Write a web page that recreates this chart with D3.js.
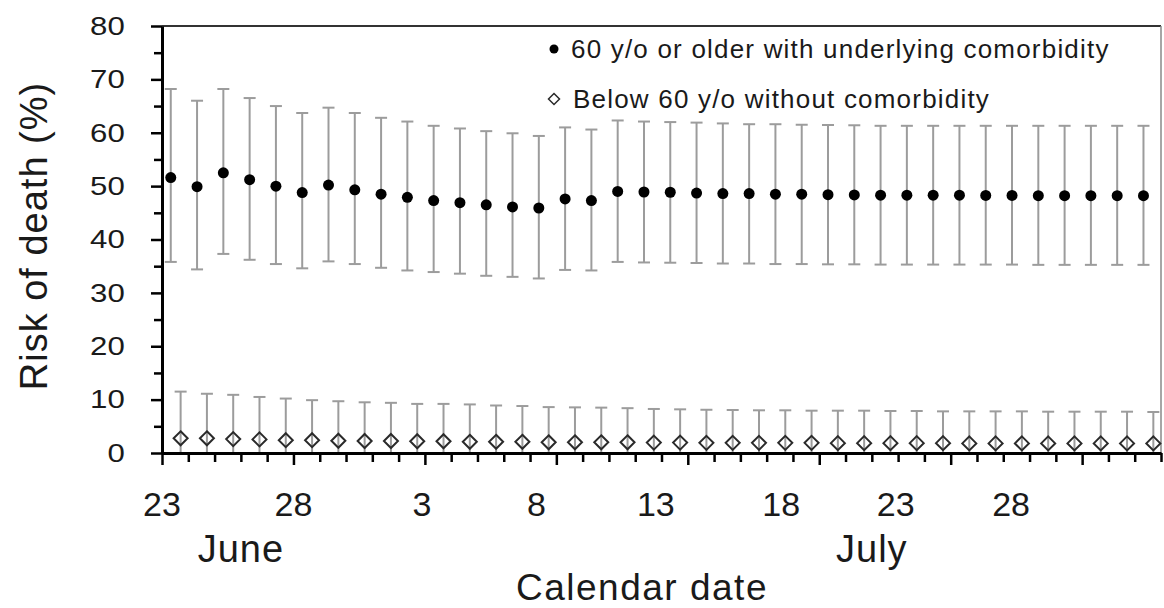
<!DOCTYPE html>
<html>
<head>
<meta charset="utf-8">
<script src="https://cdn.jsdelivr.net/npm/d3@7"></script>
<style>
  body { margin: 0; background: #fff; }
  svg text { font-family: "Liberation Sans", Arial, sans-serif; fill: #1a1a1a; }
</style>
</head>
<body>
<div id="chart"></div>
<script>
// calendar days, one point per day
var dates = [
  "2020-06-23", "2020-06-24", "2020-06-25", "2020-06-26", "2020-06-27", "2020-06-28",
  "2020-06-29", "2020-06-30", "2020-07-01", "2020-07-02", "2020-07-03", "2020-07-04",
  "2020-07-05", "2020-07-06", "2020-07-07", "2020-07-08", "2020-07-09", "2020-07-10",
  "2020-07-11", "2020-07-12", "2020-07-13", "2020-07-14", "2020-07-15", "2020-07-16",
  "2020-07-17", "2020-07-18", "2020-07-19", "2020-07-20", "2020-07-21", "2020-07-22",
  "2020-07-23", "2020-07-24", "2020-07-25", "2020-07-26", "2020-07-27", "2020-07-28",
  "2020-07-29", "2020-07-30"
];

// 60 y/o or older with underlying comorbidity (%)
var olderMean = [51.6, 49.9, 52.5, 51.2, 50.0, 48.8, 50.2, 49.3, 48.5, 47.9, 47.3, 46.9, 46.5,
  46.1, 45.9, 47.6, 47.3, 49.0, 48.9, 48.85, 48.7, 48.6, 48.6, 48.5, 48.5, 48.4, 48.35, 48.3,
  48.3, 48.3, 48.3, 48.25, 48.25, 48.2, 48.2, 48.2, 48.2, 48.2];
var olderLow = [35.8, 34.4, 37.3, 36.2, 35.4, 34.6, 35.9, 35.4, 34.7, 34.2, 33.9, 33.6, 33.2,
  33.0, 32.7, 34.3, 34.2, 35.8, 35.7, 35.65, 35.6, 35.5, 35.5, 35.4, 35.4, 35.35, 35.35, 35.3,
  35.3, 35.3, 35.3, 35.3, 35.3, 35.25, 35.25, 35.25, 35.25, 35.25];
var olderHigh = [68.2, 66.0, 68.2, 66.5, 65.0, 63.7, 64.7, 63.7, 62.8, 62.1, 61.3, 60.8, 60.3,
  59.9, 59.4, 61.0, 60.6, 62.3, 62.1, 62.0, 61.9, 61.75, 61.6, 61.6, 61.5, 61.45, 61.4, 61.3,
  61.3, 61.3, 61.3, 61.3, 61.3, 61.3, 61.3, 61.3, 61.3, 61.3];

// Below 60 y/o without comorbidity (%)
var youngMean = [2.75, 2.75, 2.6, 2.55, 2.4, 2.4, 2.3, 2.25, 2.25, 2.2, 2.2, 2.1, 2.1, 2.1, 2.0,
  2.0, 2.0, 2.0, 1.95, 1.95, 1.9, 1.9, 1.9, 1.9, 1.9, 1.85, 1.85, 1.85, 1.85, 1.85, 1.8, 1.8,
  1.8, 1.8, 1.8, 1.8, 1.8, 1.8];
var youngLow = [0, 0, 0, 0, 0, 0, 0, 0, 0, 0, 0, 0, 0, 0, 0, 0, 0, 0, 0,
  0, 0, 0, 0, 0, 0, 0, 0, 0, 0, 0, 0, 0, 0, 0, 0, 0, 0, 0];
var youngHigh = [11.5, 11.1, 10.9, 10.5, 10.2, 9.9, 9.7, 9.5, 9.4, 9.2, 9.2, 9.1, 8.9, 8.8, 8.6,
  8.55, 8.5, 8.4, 8.25, 8.18, 8.1, 8.06, 8.0, 8.0, 7.93, 7.93, 7.93, 7.87, 7.87, 7.8, 7.8, 7.8,
  7.8, 7.74, 7.74, 7.74, 7.74, 7.68];

var yTicks = [0, 10, 20, 30, 40, 50, 60, 70, 80];
var xTickLabels = ["23", "28", "3", "8", "13", "18", "23", "28"];
var monthLabels = ["June", "July"];
var monthDates = ["2020-06-26", "2020-07-20"];
var legendLabels = ["60 y/o or older with underlying comorbidity", "Below 60 y/o without comorbidity"];

var W = 1164, H = 608;
var parse = d3.timeParse("%Y-%m-%d");
var days = dates.map(parse);
var xEnd = d3.timeDay.offset(days[days.length - 1], 1);

var x = d3.scaleTime().domain([days[0], xEnd]).range([162, 1161]);
var y = d3.scaleLinear().domain([0, 80]).range([453, 26]);

var svg = d3.select("#chart").append("svg")
    .attr("width", W)
    .attr("height", H);

// frame (top + right)
svg.append("line")
    .attr("x1", x.range()[0]).attr("x2", x.range()[1])
    .attr("y1", y(80)).attr("y2", y(80))
    .attr("stroke", "#333").attr("stroke-width", 2);
svg.append("line")
    .attr("x1", x.range()[1]).attr("x2", x.range()[1])
    .attr("y1", y(80)).attr("y2", y(0))
    .attr("stroke", "#888").attr("stroke-width", 1.5);

var series = [
  { mean: olderMean, low: olderLow, high: olderHigh, shiftH: 8, shape: "dot" },
  { mean: youngMean, low: youngLow, high: youngHigh, shiftH: 17, shape: "diamond" }
];

var diamond = "M0,-7L7,0L0,7L-7,0Z";

series.forEach(function(s) {
  var pts = days.map(function(d, i) {
    return { x: x(d3.timeHour.offset(d, s.shiftH)), m: s.mean[i], lo: s.low[i], hi: s.high[i] };
  });
  var g = svg.append("g");
  var bars = g.selectAll(".eb").data(pts).enter().append("g").attr("class", "eb")
      .attr("stroke", "#9c9c9c").attr("stroke-width", 2);
  bars.append("line")
      .attr("x1", d => d.x).attr("x2", d => d.x)
      .attr("y1", d => y(d.lo)).attr("y2", d => y(d.hi));
  bars.append("line")
      .attr("x1", d => d.x - 6).attr("x2", d => d.x + 6)
      .attr("y1", d => y(d.hi)).attr("y2", d => y(d.hi));
  bars.append("line")
      .attr("x1", d => d.x - 6).attr("x2", d => d.x + 6)
      .attr("y1", d => y(d.lo)).attr("y2", d => y(d.lo));

  if (s.shape === "dot") {
    g.selectAll(".pt").data(pts).enter().append("circle")
        .attr("class", "pt")
        .attr("cx", d => d.x).attr("cy", d => y(d.m)).attr("r", 5.5)
        .attr("fill", "#000");
  } else {
    g.selectAll(".pt").data(pts).enter().append("path")
        .attr("class", "pt")
        .attr("d", diamond)
        .attr("transform", d => "translate(" + d.x + "," + y(d.m) + ")")
        .attr("fill", "none").attr("stroke", "#2a2a2a").attr("stroke-width", 2);
  }
});

// x axis: a tick each day, longer every 5 days
var allDays = d3.timeDay.range(days[0], d3.timeDay.offset(xEnd, 1));
var xAxis = svg.append("g")
    .attr("transform", "translate(0," + y(0) + ")")
    .call(d3.axisBottom(x).tickValues(allDays).tickSize(9).tickSizeOuter(0).tickFormat(""));
xAxis.select(".domain").attr("stroke", "#000").attr("stroke-width", 3);
xAxis.selectAll(".tick line").attr("stroke", "#000").attr("stroke-width", 2.5)
    .filter((d, i) => i % 5 === 0).attr("y2", 12);

// y axis: minor every 5
var yAxis = svg.append("g")
    .attr("transform", "translate(" + x.range()[0] + ",0)")
    .call(d3.axisLeft(y).tickValues(d3.range(0, 81, 5)).tickSize(8).tickSizeOuter(0)
      .tickFormat(v => yTicks.indexOf(v) >= 0 ? v : ""));
yAxis.select(".domain").attr("stroke", "#000").attr("stroke-width", 3);
yAxis.selectAll(".tick line").attr("stroke", "#000").attr("stroke-width", 2.5)
    .filter(v => yTicks.indexOf(v) >= 0).attr("x2", -11);
yAxis.selectAll(".tick text")
    .attr("x", -31)
    .attr("transform", "scale(1.2,1)")
    .style("font-size", "26px")
    .style("fill", "#1a1a1a");

// x tick labels (placed as in the original figure, drifting left of the major ticks)
var labelNudge = [0, 0, -3, -20, -32, -38, -55, -71];
var majorDays = allDays.filter((d, i) => i % 5 === 0);
svg.selectAll(".xlab").data(xTickLabels).enter().append("text")
    .attr("class", "xlab")
    .attr("x", (d, i) => x(majorDays[i]) + labelNudge[i])
    .attr("y", 516)
    .attr("text-anchor", "middle")
    .style("font-size", "34px")
    .text(d => d);

svg.selectAll(".mlab").data(monthLabels).enter().append("text")
    .attr("class", "mlab")
    .attr("x", (d, i) => x(parse(monthDates[i])))
    .attr("y", 562)
    .attr("text-anchor", "middle")
    .style("font-size", "38px")
    .style("letter-spacing", "1px")
    .text(d => d);

svg.append("text")
    .attr("x", 642)
    .attr("y", 600)
    .attr("text-anchor", "middle")
    .style("font-size", "37px")
    .style("letter-spacing", "1.5px")
    .text("Calendar date");

svg.append("text")
    .attr("transform", "translate(47,236) rotate(-90)")
    .attr("text-anchor", "middle")
    .style("font-size", "38px")
    .style("letter-spacing", "1px")
    .text("Risk of death (%)");

// legend
var leg = svg.append("g");
leg.append("circle").attr("cx", 554).attr("cy", 49).attr("r", 4.5).attr("fill", "#000");
leg.append("text").attr("x", 571).attr("y", 58)
    .style("font-size", "26px").style("letter-spacing", "1.2px")
    .text(legendLabels[0]);
leg.append("path").attr("d", "M0,-5.5L5.5,0L0,5.5L-5.5,0Z")
    .attr("transform", "translate(554,99)")
    .attr("fill", "none").attr("stroke", "#2a2a2a").attr("stroke-width", 1.5);
leg.append("text").attr("x", 573).attr("y", 108)
    .style("font-size", "26px").style("letter-spacing", "1.2px")
    .text(legendLabels[1]);
</script>
</body>
</html>
